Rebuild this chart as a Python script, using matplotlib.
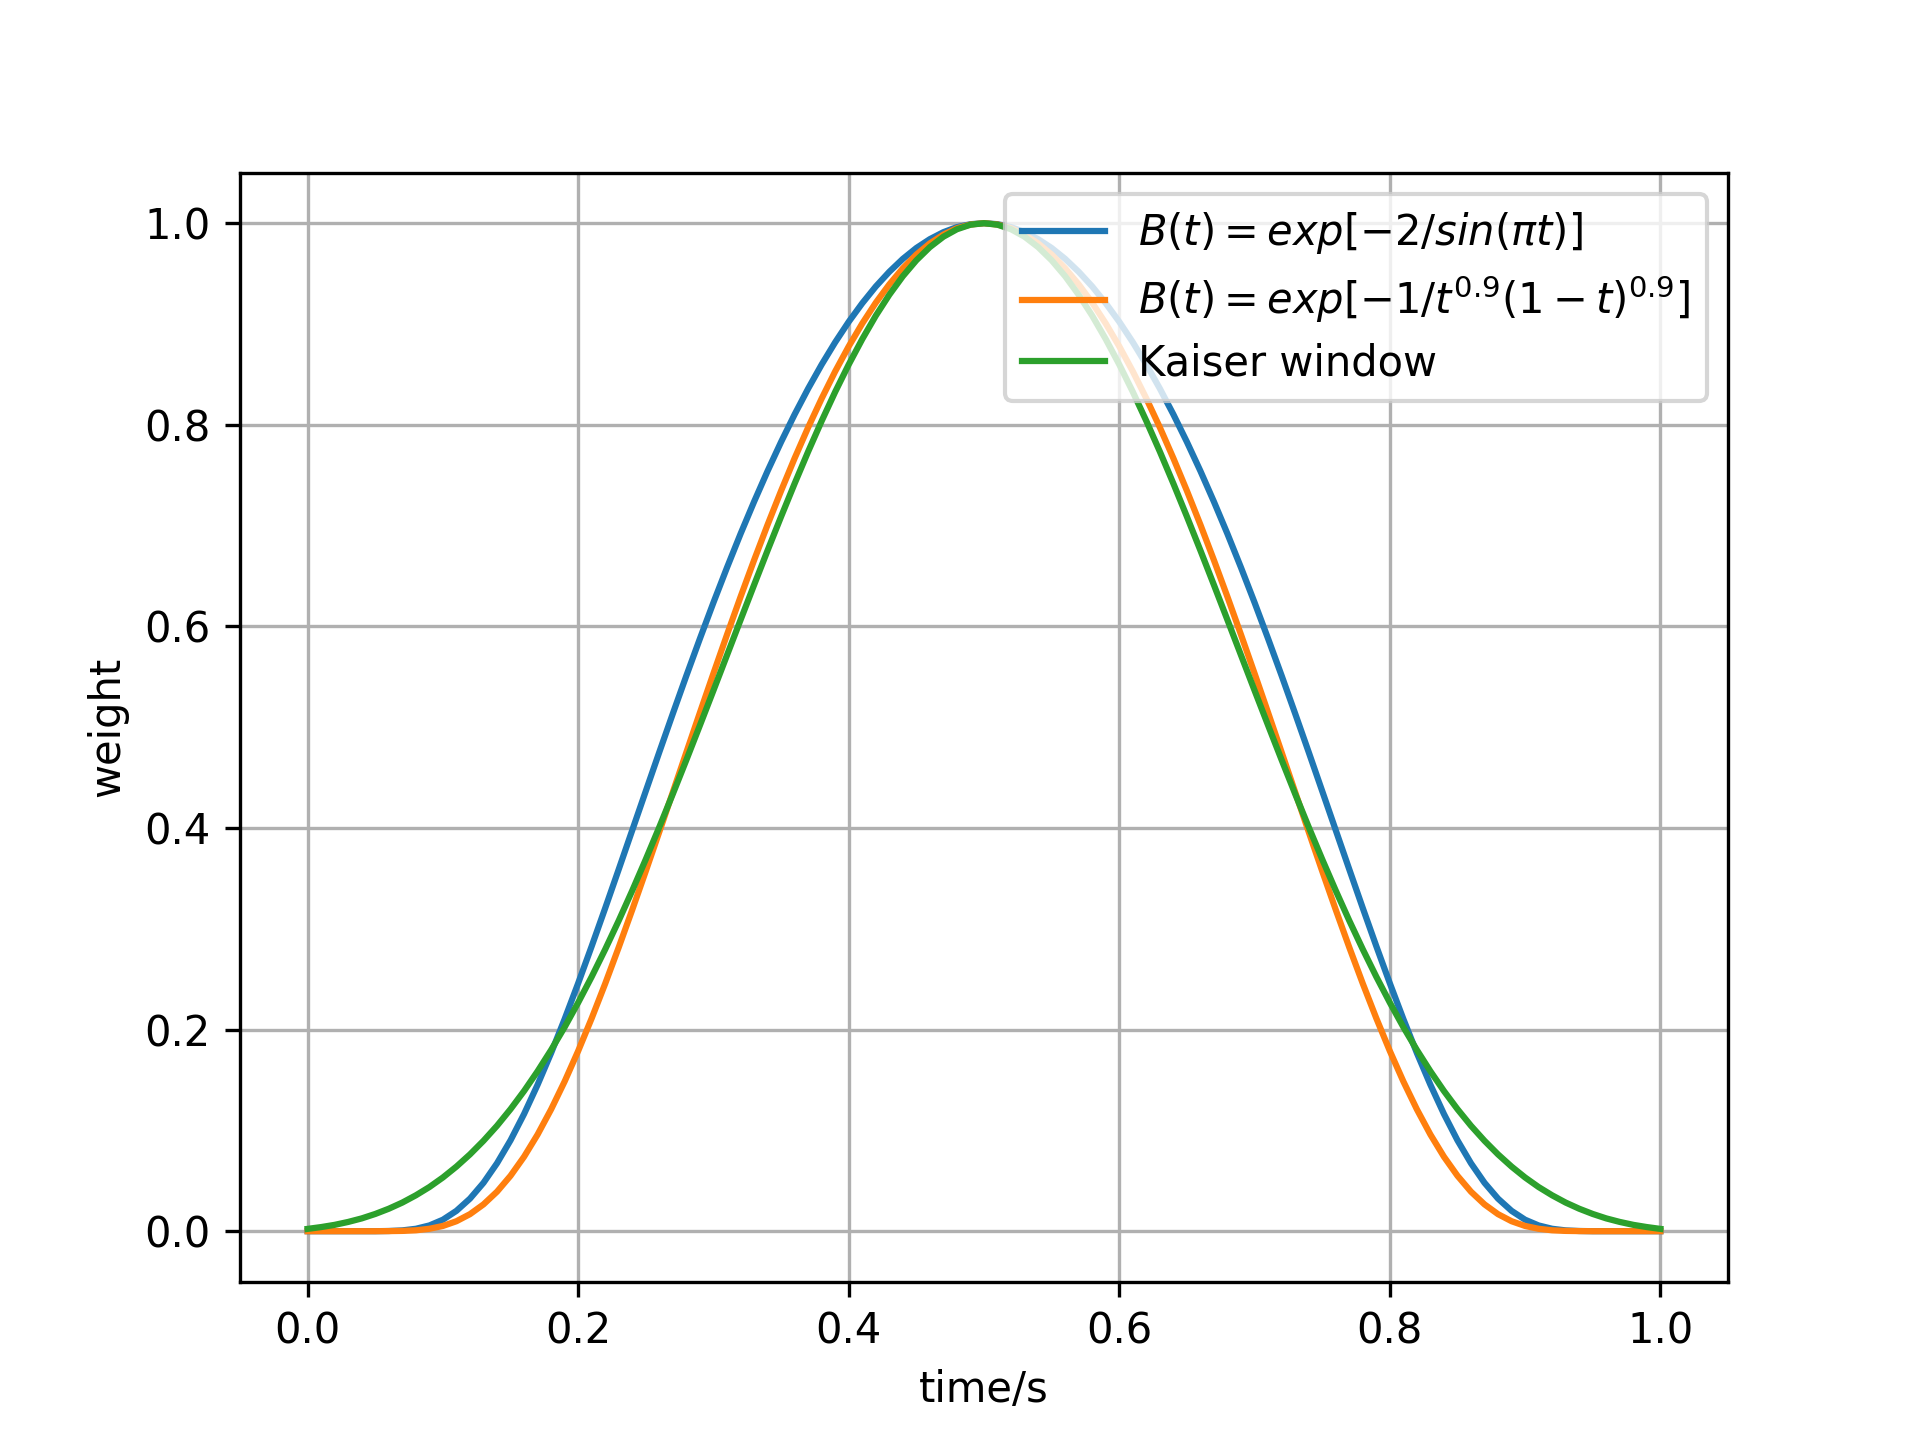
import matplotlib
matplotlib.use("Agg")
import matplotlib.pyplot as plt

# time samples (s), step 0.01
time_s = [round(0.01 * i, 2) for i in range(101)]

weight_sin = [
    0.0, 0.0, 0.0, 0.0, 0.0, 0.0, 0.0002, 0.0008, 0.0024, 0.0057,
    0.0114, 0.0202, 0.0323, 0.0480, 0.0674, 0.0902, 0.1163, 0.1453, 0.1768, 0.2105,
    0.2460, 0.2828, 0.3206, 0.3591, 0.3979, 0.4367, 0.4754, 0.5136, 0.5512, 0.5879,
    0.6237, 0.6583, 0.6917, 0.7236, 0.7541, 0.7830, 0.8103, 0.8359, 0.8598, 0.8819,
    0.9022, 0.9206, 0.9372, 0.9518, 0.9646, 0.9754, 0.9842, 0.9911, 0.9961, 0.9990,
    1.0, 0.9990, 0.9961, 0.9911, 0.9842, 0.9754, 0.9646, 0.9518, 0.9372, 0.9206,
    0.9022, 0.8819, 0.8598, 0.8359, 0.8103, 0.7830, 0.7541, 0.7236, 0.6917, 0.6583,
    0.6237, 0.5879, 0.5512, 0.5136, 0.4754, 0.4367, 0.3979, 0.3591, 0.3206, 0.2828,
    0.2460, 0.2105, 0.1768, 0.1453, 0.1163, 0.0902, 0.0674, 0.0480, 0.0323, 0.0202,
    0.0114, 0.0057, 0.0024, 0.0008, 0.0002, 0.0, 0.0, 0.0, 0.0, 0.0,
    0.0]

weight_pow = [
    0.0, 0.0, 0.0, 0.0, 0.0, 0.0, 0.0001, 0.0003, 0.0009, 0.0024,
    0.0052, 0.0099, 0.0169, 0.0266, 0.0392, 0.0550, 0.0739, 0.0959, 0.1209, 0.1486,
    0.1788, 0.2113, 0.2457, 0.2817, 0.3190, 0.3573, 0.3963, 0.4357, 0.4752, 0.5145,
    0.5534, 0.5917, 0.6292, 0.6656, 0.7008, 0.7345, 0.7668, 0.7974, 0.8261, 0.8530,
    0.8778, 0.9005, 0.9211, 0.9393, 0.9553, 0.9689, 0.9800, 0.9887, 0.9950, 0.9987,
    1.0, 0.9987, 0.9950, 0.9887, 0.9800, 0.9689, 0.9553, 0.9393, 0.9211, 0.9005,
    0.8778, 0.8530, 0.8261, 0.7974, 0.7668, 0.7345, 0.7008, 0.6656, 0.6292, 0.5917,
    0.5534, 0.5145, 0.4752, 0.4357, 0.3963, 0.3573, 0.3190, 0.2817, 0.2457, 0.2113,
    0.1788, 0.1486, 0.1209, 0.0959, 0.0739, 0.0550, 0.0392, 0.0266, 0.0169, 0.0099,
    0.0052, 0.0024, 0.0009, 0.0003, 0.0001, 0.0, 0.0, 0.0, 0.0, 0.0,
    0.0]

weight_kaiser = [
    0.0023, 0.0041, 0.0063, 0.0092, 0.0127, 0.0171, 0.0223, 0.0284, 0.0356, 0.0438,
    0.0533, 0.0641, 0.0762, 0.0897, 0.1046, 0.1211, 0.1391, 0.1587, 0.1798, 0.2025,
    0.2268, 0.2525, 0.2797, 0.3082, 0.3380, 0.3690, 0.4010, 0.4339, 0.4676, 0.5019,
    0.5365, 0.5714, 0.6063, 0.6410, 0.6753, 0.7089, 0.7417, 0.7734, 0.8038, 0.8327,
    0.8598, 0.8850, 0.9082, 0.9290, 0.9474, 0.9632, 0.9763, 0.9866, 0.9940, 0.9985,
    1.0, 0.9985, 0.9940, 0.9866, 0.9763, 0.9632, 0.9474, 0.9290, 0.9082, 0.8850,
    0.8598, 0.8327, 0.8038, 0.7734, 0.7417, 0.7089, 0.6753, 0.6410, 0.6063, 0.5714,
    0.5365, 0.5019, 0.4676, 0.4339, 0.4010, 0.3690, 0.3380, 0.3082, 0.2797, 0.2525,
    0.2268, 0.2025, 0.1798, 0.1587, 0.1391, 0.1211, 0.1046, 0.0897, 0.0762, 0.0641,
    0.0533, 0.0438, 0.0356, 0.0284, 0.0223, 0.0171, 0.0127, 0.0092, 0.0063, 0.0041,
    0.0023]

labels = [r'$B(t)=exp[-2/sin(\pi t)]$',
          r'$B(t)=exp[-1/t^{0.9}(1-t)^{0.9}]$',
          'Kaiser window']

fig, ax = plt.subplots(figsize=(6.4, 4.8), dpi=300)
ax.plot(time_s, weight_sin, label=labels[0])
ax.plot(time_s, weight_pow, label=labels[1])
ax.plot(time_s, weight_kaiser, label=labels[2])
ax.set_xlabel('time/s')
ax.set_ylabel('weight')
ax.grid(True)
ax.legend(loc='upper right', labelspacing=0.42)
fig.savefig('out.png', dpi=300)
